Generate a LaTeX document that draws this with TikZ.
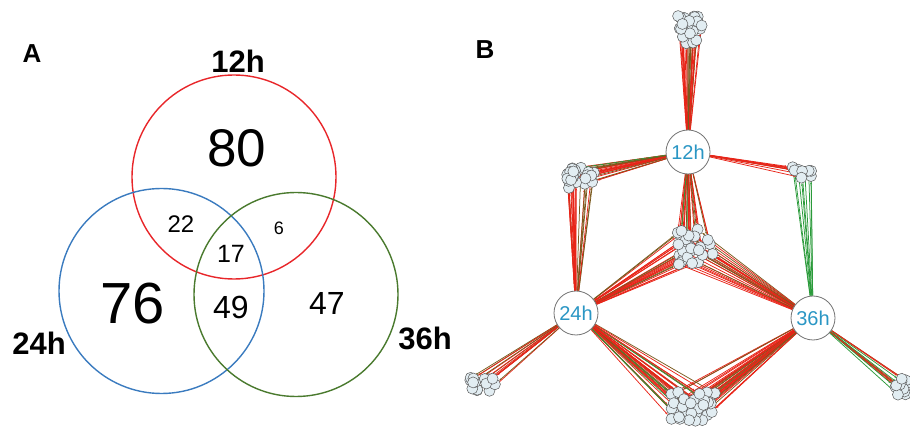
\documentclass[tikz,border=0pt]{standalone}
\usepackage{fontspec}
\setmainfont{Liberation Sans}
\usetikzlibrary{arrows.meta}
\pgfdeclarelayer{edges}
\pgfsetlayers{edges,main}
\definecolor{vred}{HTML}{E8262A}
\definecolor{vblue}{HTML}{3A7BBF}
\definecolor{vgreen}{HTML}{4A7A2E}
\definecolor{ered}{HTML}{E82418}
\definecolor{egreen}{HTML}{2A9A3A}
\definecolor{eolive}{HTML}{7A5A1E}
\definecolor{hubtext}{HTML}{2A96C4}
\definecolor{leafc}{HTML}{E2EDF2}
\newcommand{\drawclus}[7]{%
  \foreach \k in {1,...,#6}{%
    \pgfmathsetmacro{\px}{#2+#4*rand}%
    \pgfmathsetmacro{\py}{#3+#5*rand}%
    \node[leaf] (#1\k) at (\px,\py) {};
    \begin{pgfonlayer}{edges}
    \foreach \hb/\gp in {#7}{%
      \pgfmathsetmacro{\rr}{rnd}%
      \pgfmathtruncatemacro{\ci}{\rr<\gp ? 0 : (\rr<\gp+0.2 ? 1 : 2)}%
      \ifcase\ci \def\ec{egreen}\or\def\ec{eolive}\else\def\ec{ered}\fi
      \draw[edge, color=\ec] (\hb) -- (#1\k);
    }
    \end{pgfonlayer}
  }%
}
\tikzset{
  venn/.style={line width=1.4pt},
  num/.style={inner sep=0pt, anchor=center},
  lab/.style={inner sep=0pt, anchor=center, font=\fontsize{31}{34}\selectfont\bfseries},
  panel/.style={inner sep=0pt, anchor=center, font=\fontsize{26}{28}\selectfont\bfseries},
  hub/.style={circle, draw=black!55, fill=white, line width=0.8pt, minimum size=44pt, inner sep=0pt, text=hubtext, font=\fontsize{20}{22}\selectfont},
  leaf/.style={circle, draw=black!65, fill=leafc, line width=0.5pt, minimum size=11pt, inner sep=0pt},
  edge/.style={line width=0.75pt, -{Stealth[length=2.5pt,width=2pt]}}
}
\begin{document}
\begin{tikzpicture}[x=1pt,y=-1pt]
\useasboundingbox (0,0) rectangle (910,427);
\pgfmathsetseed{42}
% ---------- Panel A ----------
\node[panel] (pA) at (32,54) {A};
\node[venn, draw=vred, circle, minimum size=204pt, inner sep=0pt] (c12) at (234,177) {};
\node[venn, draw=vblue, circle, minimum size=205pt, inner sep=0pt] (c24) at (161.5,291) {};
\node[venn, draw=vgreen, circle, minimum size=204pt, inner sep=0pt] (c36) at (296,294.5) {};
\node[lab] (l12) at (238,61) {12h};
\node[lab] (l24) at (39,343) {24h};
\node[lab] (l36) at (425,338) {36h};
\node[num, font=\fontsize{53}{56}\selectfont] (n80) at (237,148) {80};
\node[num, font=\fontsize{58}{60}\selectfont] (n76) at (133,304) {76};
\node[num, font=\fontsize{24}{26}\selectfont] (n22) at (181,224) {22};
\node[num, font=\fontsize{18}{20}\selectfont] (n6) at (279,228) {6};
\node[num, font=\fontsize{25}{27}\selectfont] (n17) at (231,254) {17};
\node[num, font=\fontsize{32}{34}\selectfont] (n49) at (231,307) {49};
\node[num, font=\fontsize{32}{34}\selectfont] (n47) at (327,303) {47};
% ---------- Panel B ----------
\node[panel] (pB) at (485,50) {B};
\node[hub] (h12) at (688,152) {12h};
\node[hub] (h24) at (576,313) {24h};
\node[hub] (h36) at (813,318) {36h};
\drawclus{t}{690}{30}{13}{15}{28}{h12/0.06}
\drawclus{ul}{580}{178}{14}{11}{24}{h12/0.04,h24/0.05}
\drawclus{ur}{802}{174}{10}{7}{9}{h12/0.03,h36/0.85}
\drawclus{m}{695}{247}{18}{18}{26}{h12/0.08,h24/0.1,h36/0.08}
\drawclus{bl}{482}{382}{13}{9}{14}{h24/0.15}
\drawclus{b}{693}{407}{22}{15}{34}{h24/0.1,h36/0.12}
\drawclus{r}{900}{386}{9}{12}{12}{h36/0.55}
\end{tikzpicture}
\end{document}
